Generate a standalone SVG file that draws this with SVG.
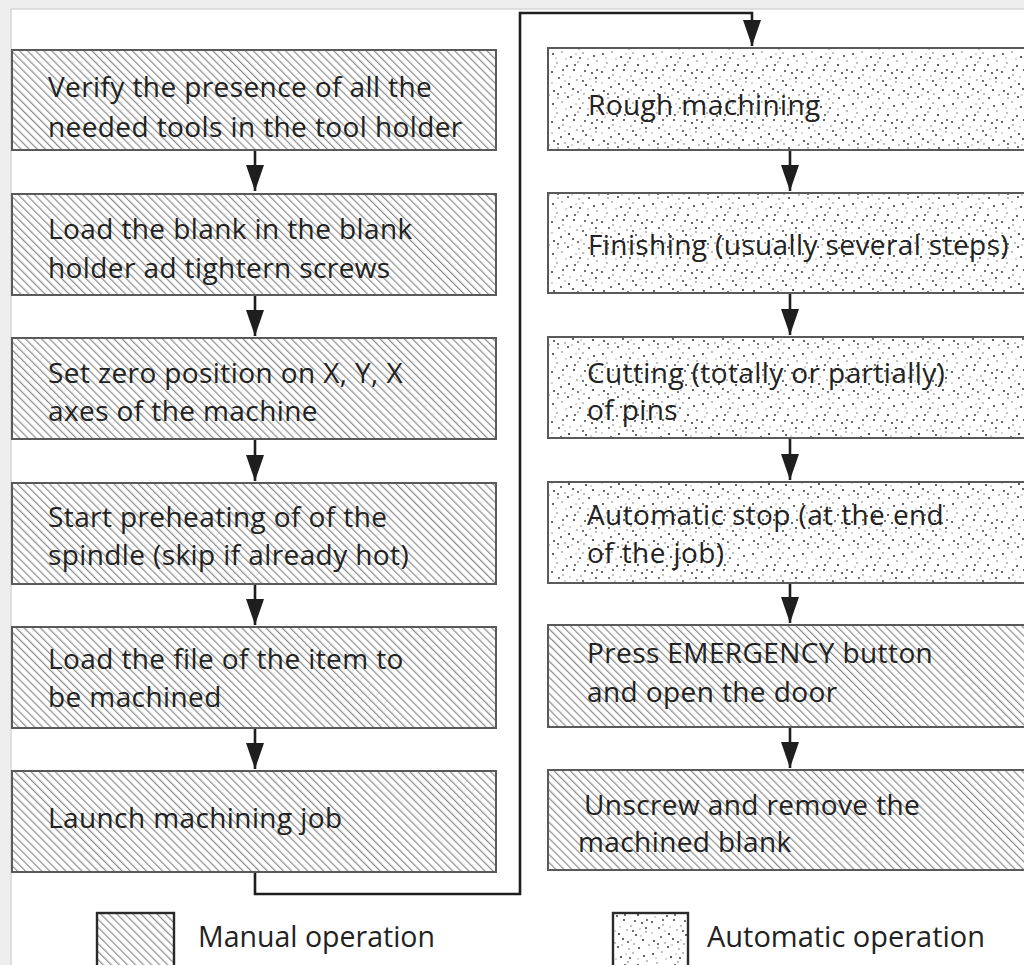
<svg xmlns="http://www.w3.org/2000/svg" width="1024" height="965" viewBox="0 0 1024 965">
<style>
.box{stroke:#5a5a5a;stroke-width:2}
.man{fill:url(#hatch)}
.auto{fill:url(#dots)}
.t{font-family:"Open Sans","Noto Sans",sans-serif;font-size:28px;letter-spacing:0.4px;fill:#222222}
.lg{font-family:"Open Sans","Noto Sans",sans-serif;font-size:30px;fill:#222222}
.conn{fill:none;stroke:#1e1e1e;stroke-width:2.6}
.lbox{stroke:#2a2a2a;stroke-width:2.4}
</style>
<defs>
<pattern id="hatch" patternUnits="userSpaceOnUse" width="5.7" height="10" patternTransform="rotate(-45)">
<rect x="0" y="0" width="5.7" height="10" fill="#ffffff"/>
<rect x="0" y="0" width="1.2" height="10" fill="#8c8c8c"/>
</pattern>
<pattern id="dots" patternUnits="userSpaceOnUse" width="50" height="50">
<rect width="50" height="50" fill="#ffffff"/>
<g fill="#333333">
<circle cx="3" cy="4" r="1"/><circle cx="21" cy="7" r="1.1"/><circle cx="44" cy="6" r="1"/>
<circle cx="17" cy="16" r="1"/><circle cx="38" cy="15" r="1.1"/><circle cx="2" cy="22" r="1"/>
<circle cx="24" cy="20" r="1"/><circle cx="42" cy="23" r="1"/><circle cx="19" cy="34" r="1.1"/>
<circle cx="36" cy="35" r="1"/><circle cx="4" cy="41" r="1"/><circle cx="23" cy="39" r="1"/>
<circle cx="43" cy="40" r="1.1"/><circle cx="18" cy="47" r="1"/><circle cx="39" cy="48" r="1"/>
<circle cx="25" cy="15" r="0.9"/><circle cx="11" cy="37" r="0.9"/><circle cx="47" cy="20" r="0.9"/>
<circle cx="35" cy="21" r="0.9"/><circle cx="9" cy="28" r="0.9"/>
<circle cx="30" cy="8" r="0.9"/><circle cx="13" cy="20" r="0.9"/><circle cx="46" cy="28" r="1"/>
<circle cx="28" cy="42" r="0.9"/><circle cx="8" cy="44" r="0.9"/><circle cx="33" cy="31" r="0.9"/>
</g>
<g fill="#a0a0a0">
<circle cx="12" cy="2" r="0.9"/><circle cx="33" cy="3" r="0.9"/><circle cx="7" cy="13" r="0.9"/>
<circle cx="28" cy="12" r="0.9"/><circle cx="47" cy="11" r="0.9"/><circle cx="13" cy="25" r="0.9"/>
<circle cx="31" cy="26" r="0.9"/><circle cx="27" cy="30" r="0.9"/><circle cx="46" cy="32" r="0.9"/>
<circle cx="15" cy="43" r="0.9"/><circle cx="34" cy="44" r="0.9"/><circle cx="8" cy="48" r="0.9"/>
<circle cx="29" cy="49" r="0.9"/><circle cx="49" cy="45" r="0.9"/><circle cx="6" cy="8" r="0.8"/>
<circle cx="40" cy="29" r="0.8"/><circle cx="31" cy="40" r="0.8"/><circle cx="16" cy="9" r="0.8"/>
<circle cx="22" cy="45" r="0.8"/><circle cx="2" cy="33" r="0.8"/>
<circle cx="38" cy="9" r="0.8"/><circle cx="20" cy="27" r="0.8"/><circle cx="5" cy="17" r="0.8"/>
<circle cx="41" cy="36" r="0.8"/><circle cx="15" cy="31" r="0.8"/><circle cx="26" cy="4" r="0.8"/>
</g>
</pattern>
<marker id="arrd" markerUnits="userSpaceOnUse" markerWidth="18" markerHeight="26" viewBox="-9 -26 18 26" refX="0" refY="0" orient="0">
<path d="M-9,-26 L9,-26 L0,0 Z" fill="#1e1e1e"/>
</marker>
</defs>

<rect x="0" y="0" width="1024" height="965" fill="#eeeeee"/>
<rect x="11" y="9" width="1013" height="956" fill="#ffffff"/>
<line x1="11" y1="9" x2="1024" y2="9" stroke="#d6d6d6" stroke-width="1.5"/>
<line x1="11" y1="9" x2="11" y2="965" stroke="#d6d6d6" stroke-width="1.5"/>

<g id="connectors">
<path class="conn" d="M255,150 V191" marker-end="url(#arrd)"/>
<path class="conn" d="M255,295 V336" marker-end="url(#arrd)"/>
<path class="conn" d="M255,439 V481" marker-end="url(#arrd)"/>
<path class="conn" d="M255,584 V625" marker-end="url(#arrd)"/>
<path class="conn" d="M255,728 V769" marker-end="url(#arrd)"/>
<path class="conn" d="M255,872 V894 H520 V13 H752 V46" marker-end="url(#arrd)"/>
<path class="conn" d="M790,150 V191" marker-end="url(#arrd)"/>
<path class="conn" d="M790,293 V335" marker-end="url(#arrd)"/>
<path class="conn" d="M790,438 V480" marker-end="url(#arrd)"/>
<path class="conn" d="M790,583 V623" marker-end="url(#arrd)"/>
<path class="conn" d="M790,727 V768" marker-end="url(#arrd)"/>
</g>

<g id="n1"><rect class="box man" x="12" y="50" width="484" height="100"/>
<text class="t" x="48" y="97">Verify the presence of all the</text>
<text class="t" x="48" y="137">needed tools in the tool holder</text></g>

<g id="n2"><rect class="box man" x="12" y="194" width="484" height="101"/>
<text class="t" x="48" y="239">Load the blank in the blank</text>
<text class="t" x="48" y="278">holder ad tightern screws</text></g>

<g id="n3"><rect class="box man" x="12" y="338" width="484" height="101"/>
<text class="t" x="48" y="383">Set zero position on X, Y, X</text>
<text class="t" x="48" y="421">axes of the machine</text></g>

<g id="n4"><rect class="box man" x="12" y="483" width="484" height="101"/>
<text class="t" x="48" y="527">Start preheating of of the</text>
<text class="t" x="48" y="565">spindle (skip if already hot)</text></g>

<g id="n5"><rect class="box man" x="12" y="627" width="484" height="101"/>
<text class="t" x="48" y="669">Load the file of the item to</text>
<text class="t" x="48" y="707">be machined</text></g>

<g id="n6"><rect class="box man" x="12" y="771" width="484" height="101"/>
<text class="t" x="48" y="828">Launch machining job</text></g>

<g id="r1"><rect class="box auto" x="548" y="48" width="490" height="102"/>
<text class="t" x="588" y="115">Rough machining</text></g>

<g id="r2"><rect class="box auto" x="548" y="193" width="490" height="100"/>
<text class="t" x="588" y="255">Finishing (usually several steps)</text></g>

<g id="r3"><rect class="box auto" x="548" y="337" width="490" height="101"/>
<text class="t" x="587" y="383">Cutting (totally or partially)</text>
<text class="t" x="587" y="420">of pins</text></g>

<g id="r4"><rect class="box auto" x="548" y="482" width="490" height="101"/>
<text class="t" x="587" y="525">Automatic stop (at the end</text>
<text class="t" x="587" y="563">of the job)</text></g>

<g id="r5"><rect class="box man" x="548" y="625" width="490" height="102"/>
<text class="t" x="587" y="663">Press EMERGENCY button</text>
<text class="t" x="587" y="702">and open the door</text></g>

<g id="r6"><rect class="box man" x="548" y="770" width="490" height="100"/>
<text class="t" x="584" y="815">Unscrew and remove the</text>
<text class="t" x="578" y="852">machined blank</text></g>

<g id="legend-manual"><rect class="lbox man" x="97" y="913" width="77" height="60"/>
<text class="lg" x="198" y="947" textLength="237" lengthAdjust="spacingAndGlyphs">Manual operation</text></g>

<g id="legend-auto"><rect class="lbox auto" x="613" y="913" width="75" height="60"/>
<text class="lg" x="707" y="947" textLength="278" lengthAdjust="spacingAndGlyphs">Automatic operation</text></g>
</svg>
